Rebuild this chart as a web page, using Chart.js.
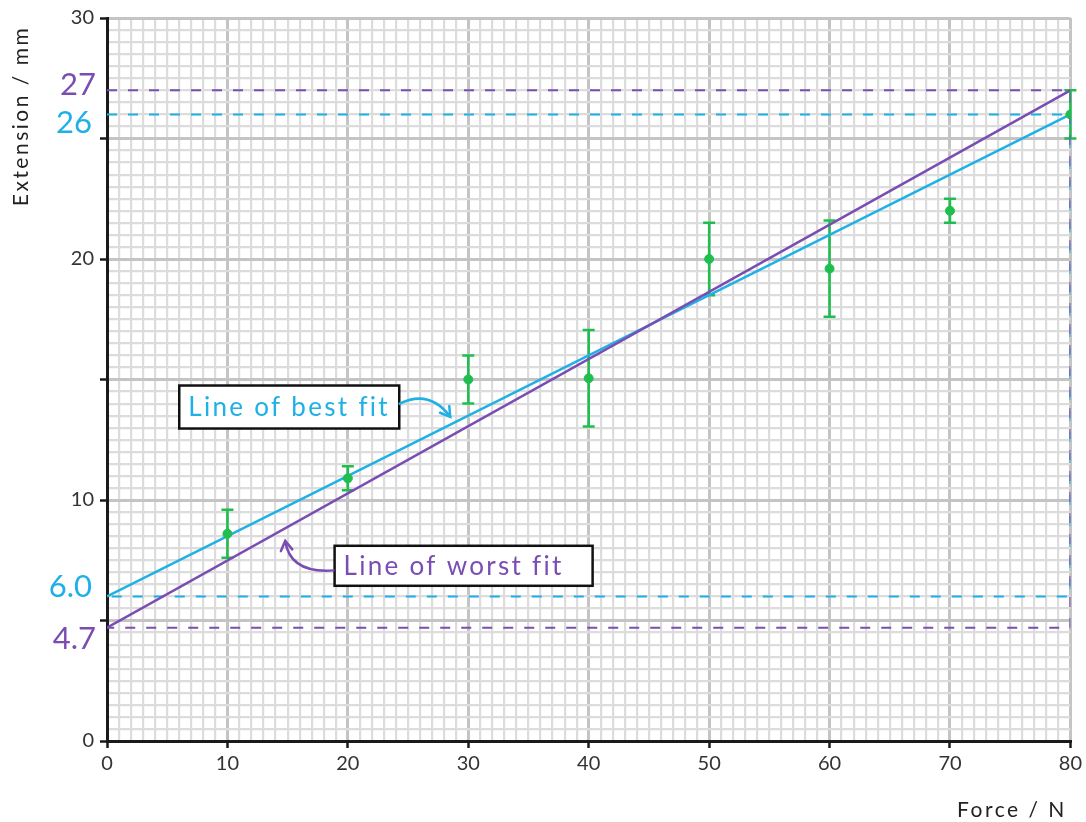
<!DOCTYPE html>
<html>
<head>
<meta charset="utf-8">
<script src="https://cdn.jsdelivr.net/npm/chart.js@4/dist/chart.umd.min.js"></script>
<style>
  html, body { margin: 0; padding: 0; background: #fff; }
  #wrap { width: 1086px; height: 822px; }
</style>
</head>
<body>
<div id="wrap"><canvas id="chart" width="1086" height="822"></canvas></div>
<script>
const forces = [10, 20, 30, 40, 50, 60, 70, 80];
const extensions = [8.6, 10.9, 15.0, 15.05, 20.0, 19.6, 22.0, 26.0];
const uncertainty = [1.0, 0.5, 1.0, 2.0, 1.5, 2.0, 0.5, 1.0];

// lines drawn through the data
const lineEnds = [0, 80];
const bestFit = [6.0, 26];
const worstFit = [4.7, 27];

const xLabels = [0, 10, 20, 30, 40, 50, 60, 70, 80];
const yLabels = [0, 10, 20, 30];

const BLUE = '#1fb0e6';
const PURPLE = '#7a4db3';
const GREEN = '#1fbe4f';
const HAND = 'Lato, "Noto Sans", sans-serif';

function pairs(xs, ys) {
  return xs.map((x, i) => ({ x: x, y: ys[i] }));
}

let points = pairs(forces, extensions);

// guide boxes: along the top value, down the right edge, back along the bottom value
let bestGuide = [
  { x: lineEnds[0], y: bestFit[1] }, { x: lineEnds[1], y: bestFit[1] },
  { x: lineEnds[1], y: bestFit[0] }, { x: lineEnds[0], y: bestFit[0] }
];
let worstGuide = [
  { x: lineEnds[0], y: worstFit[1] }, { x: lineEnds[1], y: worstFit[1] },
  { x: lineEnds[1], y: worstFit[0] }, { x: lineEnds[0], y: worstFit[0] }
];

// error bars, drawn under the points
const errorBars = {
  id: 'errorBars',
  beforeDatasetsDraw(chart) {
    let ctx = chart.ctx;
    let xs = chart.scales.x, ys = chart.scales.y;
    ctx.save();
    ctx.strokeStyle = GREEN;
    ctx.lineWidth = 2.5;
    forces.forEach((f, i) => {
      let px = xs.getPixelForValue(f);
      let top = ys.getPixelForValue(extensions[i] + uncertainty[i]);
      let bot = ys.getPixelForValue(extensions[i] - uncertainty[i]);
      ctx.beginPath();
      ctx.moveTo(px, top); ctx.lineTo(px, bot);
      ctx.moveTo(px - 6, top); ctx.lineTo(px + 6, top);
      ctx.moveTo(px - 6, bot); ctx.lineTo(px + 6, bot);
      ctx.stroke();
    });
    ctx.restore();
  }
};

function arrow(ctx, x0, y0, cx, cy, x1, y1, color) {
  ctx.save();
  ctx.strokeStyle = color;
  ctx.lineWidth = 2.5;
  ctx.lineCap = 'round';
  ctx.beginPath();
  ctx.moveTo(x0, y0);
  ctx.quadraticCurveTo(cx, cy, x1, y1);
  ctx.stroke();
  let a = Math.atan2(y1 - cy, x1 - cx);
  ctx.beginPath();
  ctx.moveTo(x1 - 11 * Math.cos(a - 0.55), y1 - 11 * Math.sin(a - 0.55));
  ctx.lineTo(x1, y1);
  ctx.lineTo(x1 - 11 * Math.cos(a + 0.55), y1 - 11 * Math.sin(a + 0.55));
  ctx.stroke();
  ctx.restore();
}

function labelBox(ctx, left, top, w, h, text, color) {
  ctx.save();
  ctx.fillStyle = '#fff';
  ctx.fillRect(left, top, w, h);
  ctx.strokeStyle = '#111';
  ctx.lineWidth = 2.5;
  ctx.strokeRect(left, top, w, h);
  ctx.fillStyle = color;
  ctx.font = '26px ' + HAND;
  ctx.letterSpacing = '2.3px';
  ctx.textBaseline = 'middle';
  ctx.fillText(text, left + 9, top + h / 2 + 1);
  ctx.restore();
}

const annotations = {
  id: 'annotations',
  afterDatasetsDraw(chart) {
    let ctx = chart.ctx;
    let xs = chart.scales.x, ys = chart.scales.y;
    let X = v => xs.getPixelForValue(v);
    let Y = v => ys.getPixelForValue(v);

    // text boxes with arrows
    labelBox(ctx, X(6), Y(14.75), 220, 43, 'Line of best fit', BLUE);
    arrow(ctx, X(24.3), Y(14.0), X(26.8), Y(14.6), X(28.5), Y(13.45), BLUE);
    labelBox(ctx, X(18.9), Y(8.1), 258, 40, 'Line of worst fit', PURPLE);
    arrow(ctx, X(18.8), Y(7.08), X(15.2), Y(6.95), X(14.8), Y(8.3), PURPLE);

    // values read on the axis
    ctx.save();
    ctx.font = '31px ' + HAND;
    ctx.textAlign = 'right';
    ctx.textBaseline = 'middle';
    ctx.fillStyle = PURPLE;
    ctx.fillText(String(worstFit[1]), 96, Y(worstFit[1]) - 5);
    ctx.fillText(worstFit[0].toFixed(1), 96, Y(worstFit[0]) + 11);
    ctx.fillStyle = BLUE;
    ctx.fillText(String(bestFit[1]), 92, Y(bestFit[1]) + 9);
    ctx.fillText(bestFit[0].toFixed(1), 92, Y(bestFit[0]) - 9);
    ctx.restore();

    // axis titles
    ctx.save();
    ctx.fillStyle = '#222';
    ctx.font = '21px ' + HAND;
    ctx.letterSpacing = '2.5px';
    ctx.textAlign = 'center';
    ctx.textBaseline = 'middle';
    ctx.fillText('Force / N', 1012, 810);
    ctx.translate(21, 116);
    ctx.rotate(-Math.PI / 2);
    ctx.fillText('Extension / mm', 0, 0);
    ctx.restore();
  }
};

let ctx = document.getElementById('chart').getContext('2d');

let myChart = new Chart(ctx, {
  type: 'scatter',
  data: {
    datasets: [
      {
        label: 'Measurements',
        data: points,
        backgroundColor: GREEN,
        borderColor: GREEN,
        pointRadius: 4.5
      },
      {
        label: 'Line of worst fit',
        data: pairs(lineEnds, worstFit),
        showLine: true,
        borderColor: PURPLE,
        borderWidth: 2.5,
        pointRadius: 0
      },
      {
        label: 'Line of best fit',
        data: pairs(lineEnds, bestFit),
        showLine: true,
        borderColor: BLUE,
        borderWidth: 2.5,
        pointRadius: 0
      },
      {
        label: 'worst guide',
        data: worstGuide,
        showLine: true,
        borderColor: PURPLE,
        borderWidth: 2,
        borderDash: [10, 11],
        pointRadius: 0
      },
      {
        label: 'best guide',
        data: bestGuide,
        showLine: true,
        borderColor: BLUE,
        borderWidth: 2,
        borderDash: [10, 11],
        pointRadius: 0
      }
    ]
  },
  options: {
    responsive: false,
    animation: false,
    layout: { padding: { left: 0, right: 13, top: 16, bottom: 0 } },
    plugins: {
      legend: { display: false },
      tooltip: { enabled: false }
    },
    scales: {
      x: {
        type: 'linear',
        min: 0,
        max: 80,
        afterFit: (scale) => { scale.height = 81; },
        border: { color: '#1a1a1a', width: 3 },
        grid: {
          color: (c) => c.tick.value % 10 === 0 ? '#c4c4c4' : '#dcdcdc',
          lineWidth: (c) => c.tick.value % 10 === 0 ? 3 : 2.2,
          tickColor: (c) => c.tick.value % 10 === 0 ? '#1a1a1a' : 'rgba(0,0,0,0)',
          tickWidth: 2.5,
          tickLength: 7
        },
        ticks: {
          stepSize: 1,
          autoSkip: false,
          maxRotation: 0,
          padding: 4,
          color: '#333',
          font: { family: HAND, size: 20 },
          callback: (v) => xLabels.includes(v) ? v : ''
        }
      },
      y: {
        type: 'linear',
        min: 0,
        max: 30,
        afterFit: (scale) => { scale.width = 107; },
        border: { color: '#1a1a1a', width: 3 },
        grid: {
          color: (c) => c.tick.value % 5 === 0 ? '#c4c4c4' : '#dcdcdc',
          lineWidth: (c) => c.tick.value % 5 === 0 ? 3 : 2.2,
          tickColor: (c) => c.tick.value % 5 === 0 ? '#1a1a1a' : 'rgba(0,0,0,0)',
          tickWidth: 2.5,
          tickLength: 7
        },
        ticks: {
          stepSize: 0.5,
          autoSkip: false,
          padding: 6,
          color: '#333',
          font: { family: HAND, size: 20 },
          callback: (v) => yLabels.includes(v) ? v : ''
        }
      }
    }
  },
  plugins: [errorBars, annotations]
});
</script>
</body>
</html>
